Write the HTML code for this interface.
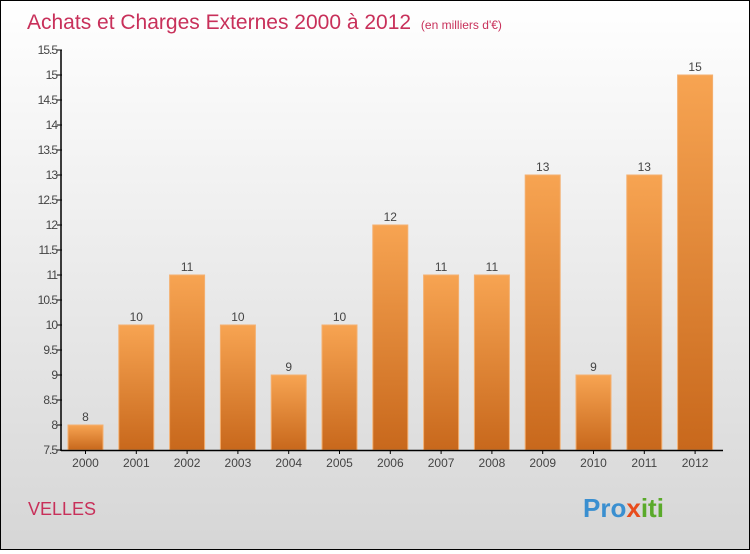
<!DOCTYPE html>
<html><head><meta charset="utf-8"><style>
body{margin:0}
#c{width:748px;height:548px;border:1px solid #000;background:linear-gradient(#fff,#d6d6d6);position:relative;font-family:"Liberation Sans",sans-serif}
</style></head><body>
<div id="c">
<svg width="748" height="548">
<defs><linearGradient id="g" x1="0" y1="0" x2="0" y2="1"><stop offset="0" stop-color="#f7a452"/><stop offset="1" stop-color="#c8681c"/></linearGradient></defs>
<text x="26" y="28" font-size="21" fill="#c8305a">Achats et Charges Externes 2000 à 2012 <tspan font-size="12" dx="4">(en milliers d'€)</tspan></text>
<g id="plot"></g>
<text x="27" y="514" font-size="18" fill="#c8305a">VELLES</text>
<text x="582" y="516" font-size="26" font-weight="bold" fill="#3a8fd0">Pro<tspan fill="#e84c1c">x</tspan><tspan fill="#5aaa2a">iti</tspan></text>
</svg></div>
<script>
const years=["2000","2001","2002","2003","2004","2005","2006","2007","2008","2009","2010","2011","2012"];
const values=[8,10,11,10,9,10,12,11,11,13,9,13,15];
const yTicks=[7.5,8,8.5,9,9.5,10,10.5,11,11.5,12,12.5,13,13.5,14,14.5,15,15.5];
const NS="http://www.w3.org/2000/svg",p=document.getElementById("plot");
const y=v=>449-(v-7.5)*50, x=i=>84.5+i*50.8;
function mk(t,a){const e=document.createElementNS(NS,t);for(const k in a)e.setAttribute(k,a[k]);p.appendChild(e);return e;}
values.forEach((v,i)=>{
 const r=mk("rect",{x:x(i)-17.5,y:y(v),width:35,height:y(7.5)-y(v),fill:"url(#g)",stroke:"#f4b070","stroke-width":1});
 
 
 const t=mk("text",{x:x(i),y:y(v)-4,"text-anchor":"middle","font-size":12,fill:"#444"});t.textContent=v;
 
 
 const xl=mk("text",{x:x(i),y:466,"text-anchor":"middle","font-size":12,fill:"#444"});xl.textContent=years[i];
 
 
 mk("line",{x1:x(i),x2:x(i),y1:449,y2:453,stroke:"#000"});
});
yTicks.forEach(v=>{
 mk("line",{x1:56,x2:61,y1:y(v),y2:y(v),stroke:"#000"});
 const t=mk("text",{x:56,y:y(v)+4,"text-anchor":"end","font-size":12,fill:"#444","letter-spacing":"-1"});t.textContent=v;
 
 
});
const ya=mk("line",{x1:60,x2:60,y1:49,y2:450,stroke:"#000","stroke-width":1.5});


const xa=mk("line",{x1:60,x2:722,y1:449.5,y2:449.5,stroke:"#000","stroke-width":1.5});


</script>
</body></html>
